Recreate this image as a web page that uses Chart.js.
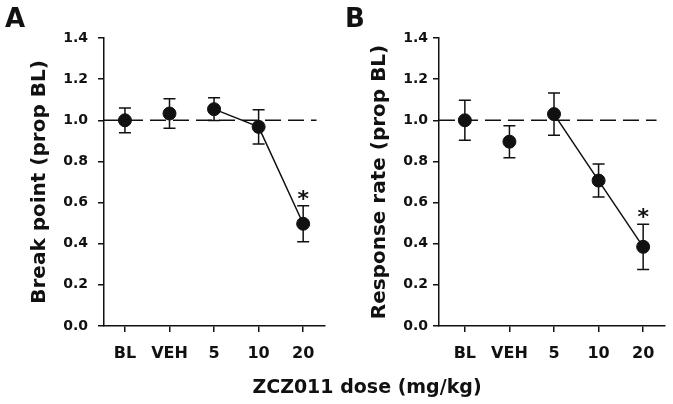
<!DOCTYPE html>
<html>
<head>
<meta charset="utf-8">
<script src="https://cdn.jsdelivr.net/npm/chart.js@4.4.1/dist/chart.umd.min.js"></script>
<style>
body{margin:0;background:#fff;}
#wrap{position:relative;width:673px;height:404px;font-family:"DejaVu Sans",sans-serif;font-weight:bold;color:#111;}
canvas{position:absolute;top:0;}
#chartA{left:0;}
#chartB{left:340px;}
.letter{position:absolute;top:5px;font-size:26px;line-height:26px;}
#xtitle{position:absolute;left:217px;width:300px;top:377px;text-align:center;font-size:19px;line-height:19px;}
</style>
</head>
<body>
<div id="wrap">
  <canvas id="chartA" width="340" height="404"></canvas>
  <canvas id="chartB" width="333" height="404"></canvas>
  <div class="letter" style="left:5px">A</div>
  <div class="letter" style="left:345px">B</div>
  <div id="xtitle">ZCZ011 dose (mg/kg)</div>
</div>
<script>
var doses = ['BL', 'VEH', '5', '10', '20'];
var yTicks = [0, 0.2, 0.4, 0.6, 0.8, 1.0, 1.2, 1.4];
var breakMean = [1.0, 1.033, 1.054, 0.968, 0.497];
var breakSem = [0.06, 0.072, 0.055, 0.083, 0.088];
var rateMean = [1.0, 0.896, 1.03, 0.707, 0.385];
var rateSem = [0.097, 0.078, 0.103, 0.08, 0.11];
var sig = [false, false, false, false, true];
var baseline = 1.0;
var joinFrom = 2; // solid line joins 5, 10 and 20 mg/kg

Chart.defaults.font.family = '"DejaVu Sans", sans-serif';
Chart.defaults.color = '#111';

// SEM bars + asterisks, drawn under the points
var errBars = {
  id: 'errBars',
  beforeDatasetsDraw: function(chart, args, opts) {
    var ctx = chart.ctx, xs = chart.scales.x, ys = chart.scales.y;
    ctx.save();
    ctx.strokeStyle = '#111';
    ctx.fillStyle = '#111';
    ctx.lineWidth = 1.5;
    for (var i = 0; i < opts.mean.length; i++) {
      var x = xs.getPixelForValue(i);
      var top = ys.getPixelForValue(opts.mean[i] + opts.sem[i]);
      var bot = ys.getPixelForValue(opts.mean[i] - opts.sem[i]);
      ctx.beginPath();
      ctx.moveTo(x, top); ctx.lineTo(x, bot);
      ctx.moveTo(x - 6, top); ctx.lineTo(x + 6, top);
      ctx.moveTo(x - 6, bot); ctx.lineTo(x + 6, bot);
      ctx.stroke();
      if (opts.sig[i]) {
        ctx.font = 'bold 22px "DejaVu Sans"';
        ctx.textAlign = 'center';
        ctx.textBaseline = 'alphabetic';
        ctx.fillText('*', x, top);
      }
    }
    ctx.restore();
  }
};

function makeChart(id, mean, sem, yTitle, xMin, yWidth, tickPad, padRight) {
  var pts = mean.map(function(v, i) { return {x: i, y: v}; });
  return new Chart(document.getElementById(id), {
    type: 'scatter',
    data: {
      datasets: [
        {
          data: [{x: xMin, y: baseline}, {x: 4.3, y: baseline}],
          showLine: true, borderColor: '#111', borderWidth: 1.5,
          borderDash: [16, 7], pointRadius: 0
        },
        {
          data: pts.slice(joinFrom),
          showLine: true, borderColor: '#111', borderWidth: 1.5, pointRadius: 0
        },
        {
          data: pts,
          showLine: false, pointRadius: 6.5, pointHoverRadius: 6.5,
          backgroundColor: '#111', borderColor: '#111'
        }
      ]
    },
    options: {
      responsive: false,
      animation: false,
      layout: {padding: {top: 38, right: padRight, left: 0, bottom: 0}},
      plugins: {
        legend: {display: false},
        tooltip: {enabled: false},
        errBars: {mean: mean, sem: sem, sig: sig}
      },
      scales: {
        x: {
          type: 'linear', min: xMin, max: 4.49,
          afterBuildTicks: function(s) { s.ticks = doses.map(function(d, i) { return {value: i}; }); },
          afterFit: function(s) { s.height = 78; },
          grid: {drawOnChartArea: false, tickLength: 6, color: '#111', lineWidth: 1.5},
          border: {color: '#111', width: 1.5},
          ticks: {
            padding: 12, maxRotation: 0,
            font: {size: 16, weight: 'bold'},
            callback: function(v) { return doses[v]; }
          }
        },
        y: {
          min: 0, max: 1.4,
          afterBuildTicks: function(s) { s.ticks = yTicks.map(function(v) { return {value: v}; }); },
          afterFit: function(s) { s.width = yWidth; },
          grid: {drawOnChartArea: false, tickLength: 6, color: '#111', lineWidth: 1.5},
          border: {color: '#111', width: 1.5},
          ticks: {
            padding: tickPad,
            font: {size: 14, weight: 'bold'},
            callback: function(v) { return v.toFixed(1); }
          },
          title: {
            display: true, text: yTitle,
            font: {size: 20, weight: 'bold'},
            padding: {top: 28, bottom: 0}
          }
        }
      }
    },
    plugins: [errBars]
  });
}

makeChart('chartA', breakMean, breakSem, 'Break point (prop BL)', -0.47, 104, 10, 15);
makeChart('chartB', rateMean, rateSem, 'Response rate (prop BL)', -0.58, 99, 5, 8);
</script>
</body>
</html>
